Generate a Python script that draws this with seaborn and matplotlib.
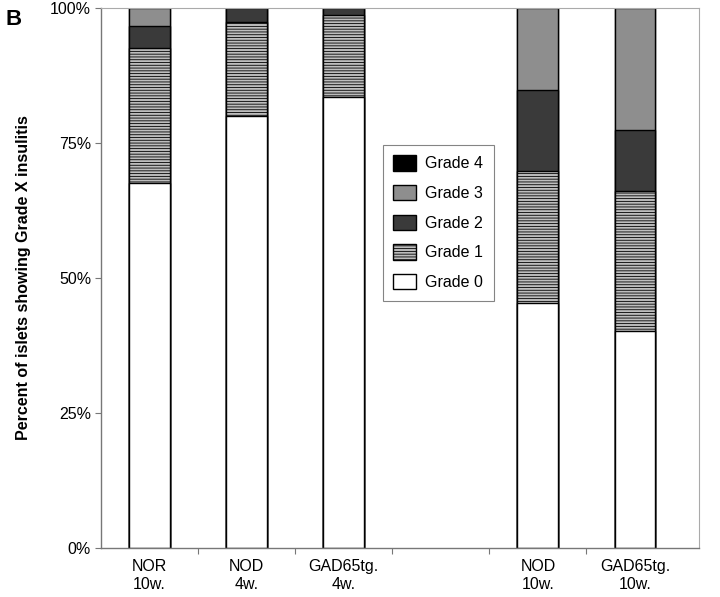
import matplotlib
matplotlib.use("Agg")
import matplotlib.pyplot as plt
import seaborn as sns
import pandas as pd
import numpy as np
from matplotlib.patches import Patch

sns.set_theme(style="white")
plt.rcParams['font.family'] = ['Liberation Sans', 'DejaVu Sans']
plt.rcParams['hatch.linewidth'] = 0.6
for key in ['text.color', 'axes.labelcolor', 'xtick.color', 'ytick.color']:
    plt.rcParams[key] = 'black'

groups = ["NOR\n10w.", "NOD\n4w.", "GAD65tg.\n4w.", "NOD\n10w.", "GAD65tg.\n10w."]
slot_order = ["NOR\n10w.", "NOD\n4w.", "GAD65tg.\n4w.", " ", "NOD\n10w.", "GAD65tg.\n10w."]
grade0 = [67.5, 80.0, 83.4, 45.4, 40.2]
grade1 = [25.0, 17.3, 15.3, 24.4, 25.9]
grade2 = [4.2, 2.7, 1.3, 15.0, 11.3]
grade3 = [3.3, 0.0, 0.0, 15.2, 22.6]
grade4 = [0.0, 0.0, 0.0, 0.0, 0.0]
legend_labels = ["Grade 4", "Grade 3", "Grade 2", "Grade 1", "Grade 0"]

layers = [grade0, grade1, grade2, grade3, grade4]
styles = [
    dict(color="white", hatch=None),
    dict(color="#bdbdbd", hatch="------"),
    dict(color="#3a3a3a", hatch=None),
    dict(color="#8e8e8e", hatch=None),
    dict(color="black", hatch=None),
]

fig = plt.figure(figsize=(7.2, 5.97), dpi=100)
ax = fig.add_axes([0.140, 0.082, 0.831, 0.905])

cum = np.cumsum(np.array(layers), axis=0)
# draw from top layer down so lower layers overlay upper ones
for k in range(len(layers) - 1, -1, -1):
    df = pd.DataFrame({"group": groups, "value": cum[k]})
    st = styles[k]
    sns.barplot(data=df, x="group", y="value", order=slot_order, ax=ax,
                color=st["color"], width=0.42, edgecolor="black",
                linewidth=1.0, saturation=1, errorbar=None,
                hatch=st["hatch"])

ax.set_ylim(0, 100)
ax.set_xlim(-0.5, 5.66)
ax.set_yticks([0, 25, 50, 75, 100])
ax.set_yticklabels(["0%", "25%", "50%", "75%", "100%"], fontsize=11.5)
ax.tick_params(axis="y", which="major", direction="out", length=4, width=0.8,
               color="#777777", labelcolor="black", left=True, pad=3)
ax.tick_params(axis="x", which="major", length=0, labelsize=11.5,
               labelcolor="black", pad=8)
ax.set_xticks(range(len(slot_order)))
ax.set_xticklabels(slot_order)
ax.set_xticks([0.5, 1.5, 2.5, 3.5, 4.5], minor=True)
ax.tick_params(axis="x", which="minor", direction="out", length=4, width=0.8,
               color="#777777", bottom=True)
ax.set_xlabel("")
ax.set_ylabel("Percent of islets showing Grade X insulitis", fontsize=11.5,
              fontweight="bold", labelpad=14, color="black")

for side in ["left", "bottom"]:
    ax.spines[side].set_color("#777777")
    ax.spines[side].set_linewidth(1.0)
for side in ["top", "right"]:
    ax.spines[side].set_color("#aaaaaa")
    ax.spines[side].set_linewidth(0.8)
    ax.spines[side].set_linestyle((0, (1, 1)))

handles = [
    Patch(facecolor="black", edgecolor="black"),
    Patch(facecolor="#8e8e8e", edgecolor="black"),
    Patch(facecolor="#3a3a3a", edgecolor="black"),
    Patch(facecolor="#bdbdbd", edgecolor="black", hatch="------"),
    Patch(facecolor="white", edgecolor="black"),
]
leg = ax.legend(handles, legend_labels, loc="upper left",
                bbox_to_anchor=(0.4716, 0.746), borderaxespad=0,
                frameon=True, fancybox=False,
                fontsize=11.5, labelspacing=0.85, handlelength=1.4,
                handleheight=1.1, borderpad=0.65, handletextpad=0.6)
leg.get_frame().set_edgecolor("#666666")
leg.get_frame().set_linewidth(0.8)
for t in leg.get_texts():
    t.set_color("black")

fig.text(0.008, 0.985, "B", fontsize=16, fontweight="bold", va="top", ha="left")

fig.savefig("out.png", dpi=100)
